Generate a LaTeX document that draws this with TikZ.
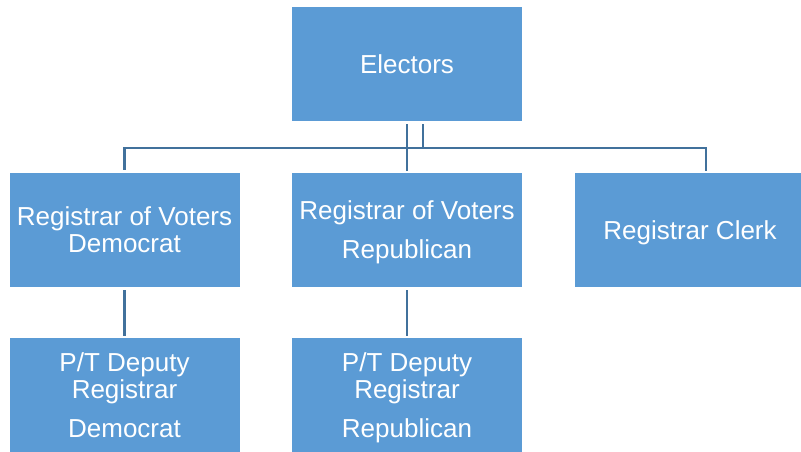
\documentclass[tikz,border=0pt]{standalone}
\usepackage{fontspec}
\setmainfont{Liberation Sans}
\definecolor{boxblue}{HTML}{5B9BD5}
\definecolor{lineblue}{HTML}{41719C}

\begin{document}
\begin{tikzpicture}[x=1pt, y=-1pt,
    box/.style={fill=boxblue, text=white, align=center, inner sep=0pt,
        minimum width=230pt, minimum height=114pt, text depth=0pt,
        font=\fontsize{26}{27}\selectfont},
    link/.style={draw=lineblue, line width=2.4pt, shorten <=3pt, shorten >=2pt}]
    \useasboundingbox (0,0) rectangle (801,451);
    \node [box] at (407,64) (electors) {Electors};
    \node [box] at (124.5,230) (regdem) {Registrar of Voters\\Democrat};
    \node [box] at (407,230) (regrep) {Registrar of Voters\\[12pt]Republican};
    \node [box] at (690,230) (clerk) {Registrar Clerk};
    \node [box] at (124.5,395) (depdem) {P/T Deputy\\Registrar\\[12pt]Democrat};
    \node [box] at (407,395) (deprep) {P/T Deputy\\Registrar\\[12pt]Republican};
    \coordinate (bus) at (407,148);
    \path [link] (electors.south) -- (regrep.north);
    \path [link, shorten >=-1.2pt] ([xshift=16pt]electors.south) -- ([xshift=16pt]electors.south |- bus);
    \path [link] (regdem.north) -- (regdem.north |- bus) -- ([xshift=16pt]clerk.north |- bus) -- ([xshift=16pt]clerk.north);
    \path [link] (regdem) -- (depdem);
    \path [link] (regrep) -- (deprep);
\end{tikzpicture}
\end{document}
